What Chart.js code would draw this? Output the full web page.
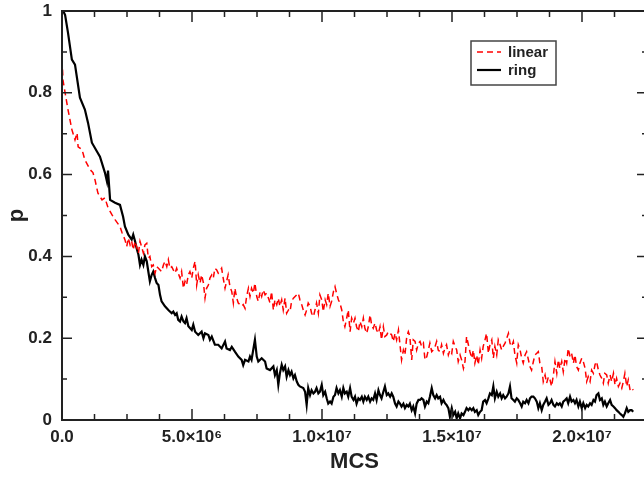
<!DOCTYPE html>
<html>
  <head>
    <meta charset="UTF-8">
    <title>p vs MCS</title>
    <script src="https://cdn.jsdelivr.net/npm/chart.js"></script>
    <style>
      html, body {
        margin: 0;
        padding: 0;
        background: white;
        overflow: hidden;
      }
      canvas {
        display: block;
      }
    </style>
  </head>
  <body>
    <canvas id="myChart" width="650" height="477"></canvas>

    <script>
      // MCS values are in millions
      const linearMcs = [
        0.02,0.04,0.12,0.23,0.38,0.5,0.58,0.62,0.77,0.88,1.08,1.19,1.27,1.38,1.54,1.65,1.77,1.92,2.04,2.23,2.31,
        2.42,2.49,2.55,2.62,2.68,2.74,2.81,2.94,3.0,3.06,3.13,3.19,3.26,3.32,3.38,3.45,3.51,3.58,3.64,3.71,
        3.83,3.9,3.96,4.03,4.09,4.15,4.22,4.28,4.35,4.41,4.47,4.54,4.6,4.67,4.73,4.79,4.86,4.92,4.99,5.05,
        5.12,5.18,5.24,5.31,5.37,5.44,5.5,5.56,5.63,5.69,5.76,5.82,5.88,5.95,6.01,6.07,6.14,6.2,6.27,6.33,
        6.39,6.46,6.53,6.59,6.65,6.72,6.78,6.85,6.91,6.97,7.04,7.1,7.17,7.23,7.29,7.36,7.42,7.49,7.55,7.62,
        7.68,7.74,7.81,7.87,7.94,
        8.0,8.06,8.13,8.19,8.26,8.32,8.38,8.45,8.51,8.58,8.64,8.71,8.77,8.83,8.9,9.03,9.09,9.15,9.22,9.28,
        9.35,9.41,9.47,9.54,9.6,9.67,9.73,9.79,9.86,9.92,9.99,10.05,10.12,10.18,10.24,10.31,10.37,10.44,10.5,10.56,
        10.63,10.69,10.76,10.82,10.88,10.95,11.01,11.08,11.14,11.21,11.27,11.33,11.4,11.46,11.53,11.59,11.65,11.72,11.78,11.85,
        11.91,11.97,12.04,12.1,12.17,12.23,12.29,12.36,12.42,12.49,12.55,12.62,12.68,12.74,12.81,12.87,12.94,13.0,13.06,13.13,
        13.19,13.26,13.32,13.38,13.45,13.51,13.58,13.64,13.71,13.77,
        13.83,13.9,13.96,14.03,14.09,14.15,14.22,14.28,14.35,14.41,14.47,14.54,14.6,14.67,14.73,14.79,14.86,14.92,14.99,15.05,
        15.12,15.18,15.24,15.31,15.37,15.44,15.5,15.56,15.63,15.69,15.76,15.82,15.88,15.95,16.01,16.08,16.14,16.2,16.27,16.33,
        16.4,16.46,16.53,16.59,16.65,16.72,16.78,16.85,16.91,16.97,17.04,17.17,17.23,17.29,17.36,17.42,17.49,17.55,17.62,17.68,
        17.74,17.81,17.87,17.94,18.0,18.06,18.13,18.19,
        18.26,18.32,18.38,18.45,18.51,18.58,18.64,18.71,18.77,18.83,18.9,18.96,19.03,19.09,19.15,19.22,19.28,19.35,19.41,19.47,
        19.54,19.6,19.67,19.73,19.79,19.86,19.92,19.99,20.05,20.12,20.18,20.24,20.31,20.37,20.44,20.5,20.56,20.63,20.69,20.76,
        20.82,20.88,20.95,21.01,21.08,21.14,21.21,21.27,21.33,21.4,21.46,21.53,21.59,21.65,21.72,21.78,21.85,21.91,21.97
      ];
      const linearP = [
        0.857,0.83,0.8,0.759,0.71,0.685,0.702,0.668,0.661,0.636,0.612,0.605,0.587,0.555,0.538,0.543,0.519,0.502,0.49,0.473,0.458,
        0.441,0.424,0.445,0.428,0.437,0.416,0.437,0.408,0.437,0.424,0.408,0.428,0.432,0.396,0.400,0.375,0.379,0.359,0.375,0.371,
        0.363,0.379,0.388,0.375,0.392,0.371,0.375,0.367,0.359,0.371,0.359,0.347,0.363,0.322,0.339,0.330,0.355,0.363,0.347,0.371,
        0.388,0.330,0.355,0.335,0.355,0.335,0.298,0.322,0.330,0.347,0.355,0.347,0.371,0.367,0.359,0.363,0.371,0.347,0.322,0.339,
        0.355,0.326,0.314,0.286,0.322,0.298,0.286,0.282,0.278,0.282,0.273,0.302,0.322,0.302,0.322,0.310,0.335,0.302,0.290,0.314,
        0.302,0.318,0.306,0.310,0.298,
        0.286,0.314,0.269,0.294,0.282,0.298,0.278,0.294,0.269,0.298,0.261,0.269,0.265,0.290,0.298,0.306,0.310,0.294,0.282,0.269,
        0.257,0.269,0.286,0.278,0.261,0.253,0.269,0.286,0.261,0.306,0.294,0.265,0.294,0.282,0.310,0.278,0.290,0.314,0.326,0.310,
        0.294,0.286,0.269,0.241,0.228,0.249,0.269,0.216,0.249,0.237,0.249,0.228,0.216,0.241,0.228,0.249,0.224,0.212,0.228,0.257,
        0.232,0.224,0.237,0.220,0.212,0.228,0.196,0.228,0.204,0.208,0.216,0.212,0.208,0.192,0.212,0.196,0.220,0.184,0.147,0.171,
        0.159,0.204,0.216,0.204,0.147,0.196,0.192,0.171,0.188,0.192,
        0.180,0.188,0.147,0.155,0.171,0.188,0.167,0.171,0.180,0.192,0.171,0.167,0.184,0.163,0.176,0.184,0.159,0.171,0.163,0.192,
        0.180,0.171,0.143,0.159,0.147,0.126,0.143,0.204,0.184,0.167,0.151,0.171,0.139,0.159,0.135,0.171,0.151,0.180,0.196,0.212,
        0.163,0.184,0.196,0.151,0.180,0.159,0.196,0.184,0.171,0.180,0.188,0.212,0.188,0.180,0.192,0.159,0.139,0.184,0.171,0.151,
        0.139,0.159,0.167,0.147,0.130,0.122,0.143,0.159,
        0.163,0.167,0.139,0.131,0.094,0.110,0.090,0.106,0.098,0.082,0.110,0.143,0.114,0.147,0.126,0.143,0.118,0.151,0.139,0.175,
        0.155,0.163,0.139,0.159,0.131,0.122,0.139,0.151,0.143,0.126,0.094,0.106,0.094,0.122,0.114,0.135,0.143,0.122,0.110,0.102,
        0.090,0.114,0.110,0.090,0.110,0.094,0.114,0.086,0.102,0.082,0.090,0.078,0.094,0.114,0.082,0.098,0.073,0.078,0.073
      ];

      const ringMcs = [
        0.05,0.12,0.23,0.38,0.5,0.69,0.88,1.0,1.15,1.35,1.46,1.65,1.73,1.77,1.85,2.04,2.23,2.35,
        2.42,2.55,2.68,2.74,2.81,2.87,2.94,3.0,3.06,3.13,3.19,3.26,3.32,3.38,3.45,3.51,3.58,3.64,3.71,3.77,
        3.83,3.96,4.09,4.22,4.28,4.35,4.41,4.47,4.54,4.6,4.67,4.73,4.79,4.86,4.99,5.05,5.12,5.24,5.37,5.44,
        5.5,5.63,5.69,5.76,5.88,6.01,6.14,6.27,6.33,6.46,6.53,6.65,6.78,6.91,6.97,7.04,7.17,7.23,7.29,7.42,
        7.49,7.55,7.68,7.81,7.87,
        8.0,8.13,8.19,8.26,8.32,8.38,8.45,8.51,8.58,8.64,8.71,8.77,8.83,8.9,8.96,9.03,9.09,9.15,9.28,9.35,
        9.41,9.47,9.54,9.6,9.67,9.73,9.79,9.86,9.92,9.99,10.05,10.12,10.18,10.24,10.31,10.37,10.44,10.5,10.56,10.63,
        10.69,10.76,10.82,10.88,10.95,11.01,11.08,11.14,11.21,11.27,11.33,11.4,11.46,11.53,11.59,11.65,11.72,11.78,11.85,11.91,
        11.97,12.04,12.1,12.17,12.23,12.29,12.36,12.42,12.49,12.55,12.62,12.68,12.74,12.81,12.87,12.94,13.0,13.06,13.13,13.19,
        13.26,13.32,13.38,13.45,13.51,13.58,13.64,13.71,13.77,
        13.83,13.9,13.96,14.03,14.09,14.15,14.22,14.28,14.35,14.41,14.47,14.54,14.6,14.67,14.73,14.79,14.86,14.92,14.99,15.05,
        15.12,15.18,15.24,15.31,15.37,15.44,15.5,15.56,15.63,15.69,15.76,15.82,15.88,15.95,16.01,16.08,16.14,16.2,16.27,16.33,
        16.4,16.46,16.53,16.59,16.65,16.72,16.78,16.85,16.91,16.97,17.04,17.1,17.17,17.23,17.29,17.36,17.42,17.49,17.55,17.62,
        17.68,17.74,17.81,17.87,17.94,18.0,18.06,18.13,18.19,
        18.26,18.32,18.38,18.45,18.51,18.58,18.64,18.71,18.77,18.83,18.9,18.96,19.03,19.09,19.15,19.22,19.28,19.35,19.41,19.47,
        19.54,19.6,19.67,19.73,19.79,19.86,19.92,19.99,20.05,20.12,20.18,20.24,20.31,20.37,20.44,20.5,20.56,20.63,20.69,20.76,
        20.82,20.88,20.95,21.01,21.08,21.14,21.21,21.27,21.33,21.4,21.46,21.53,21.59,21.65,21.72,21.78,21.85,21.91,21.97
      ];
      const ringP = [
        1.0,0.99,0.947,0.881,0.869,0.788,0.759,0.727,0.678,0.656,0.644,0.605,0.583,0.61,0.538,0.531,0.526,0.497,
        0.473,0.453,0.441,0.453,0.437,0.420,0.404,0.379,0.392,0.379,0.400,0.388,0.363,0.339,0.355,0.363,0.347,0.335,0.330,0.306,
        0.290,0.278,0.269,0.261,0.265,0.257,0.261,0.245,0.241,0.253,0.241,0.237,0.249,0.229,0.220,0.233,0.216,0.208,0.216,0.2,
        0.212,0.208,0.196,0.204,0.184,0.184,0.175,0.192,0.175,0.171,0.179,0.167,0.155,0.147,0.134,0.147,0.143,0.155,0.147,0.196,
        0.155,0.143,0.151,0.143,0.126,
        0.122,0.131,0.110,0.122,0.086,0.114,0.135,0.122,0.131,0.106,0.122,0.110,0.118,0.102,0.110,0.094,0.086,0.082,0.078,0.069,
        0.037,0.078,0.061,0.073,0.065,0.069,0.078,0.065,0.069,0.086,0.061,0.069,0.053,0.040,0.045,0.040,0.057,0.061,0.078,0.065,
        0.073,0.057,0.078,0.065,0.069,0.057,0.078,0.057,0.049,0.057,0.040,0.053,0.049,0.057,0.045,0.057,0.049,0.057,0.045,0.053,
        0.049,0.065,0.049,0.073,0.061,0.053,0.069,0.082,0.061,0.065,0.057,0.065,0.057,0.040,0.033,0.045,0.040,0.033,0.040,0.029,
        0.037,0.033,0.040,0.024,0.033,0.016,0.040,0.049,0.049,
        0.053,0.049,0.033,0.045,0.041,0.057,0.078,0.061,0.053,0.061,0.053,0.057,0.041,0.049,0.041,0.037,0.029,0.008,0.029,0.012,
        0.020,0.004,0.016,0.004,0.016,0.012,0.020,0.029,0.024,0.029,0.024,0.029,0.020,0.024,0.012,0.020,0.024,0.045,0.049,0.041,
        0.053,0.065,0.061,0.082,0.053,0.069,0.057,0.065,0.053,0.061,0.053,0.057,0.065,0.082,0.053,0.049,0.045,0.053,0.049,0.041,
        0.033,0.045,0.041,0.049,0.041,0.053,0.057,0.057,0.053,
        0.045,0.029,0.041,0.024,0.037,0.045,0.053,0.037,0.041,0.049,0.037,0.033,0.041,0.037,0.041,0.033,0.045,0.049,0.053,0.041,
        0.057,0.045,0.049,0.041,0.049,0.033,0.045,0.029,0.041,0.029,0.037,0.033,0.041,0.037,0.049,0.045,0.061,0.065,0.049,0.053,
        0.037,0.045,0.033,0.041,0.049,0.037,0.033,0.029,0.024,0.020,0.016,0.012,0.008,0.016,0.029,0.020,0.024,0.024,0.020
      ];

      const xTicks = [0, 5e6, 1e7, 1.5e7, 2e7];
      const xTickLabels = ["0.0", "5.0\u00d710\u2076", "1.0\u00d710\u2077", "1.5\u00d710\u2077", "2.0\u00d710\u2077"];
      const yTicks = [0, 0.2, 0.4, 0.6, 0.8, 1];
      const yTickLabels = ["0", "0.2", "0.4", "0.6", "0.8", "1"];

      const textColor = "#222";
      const fontFamily = "'Liberation Sans', Arial, sans-serif";

      function toPoints(xs, ys) {
        return xs.map((x, i) => ({ x: x * 1e6, y: ys[i] }));
      }

      // frame, inward ticks on all four sides, and the boxed legend
      const framePlugin = {
        id: "frame",
        afterDraw(chart) {
          const ctx = chart.ctx;
          const a = chart.chartArea;
          const xs = chart.scales.x;
          const ys = chart.scales.y;
          ctx.save();
          ctx.strokeStyle = textColor;
          ctx.lineWidth = 2;
          ctx.strokeRect(a.left, a.top, a.right - a.left, a.bottom - a.top);

          ctx.lineWidth = 1.5;
          ctx.beginPath();
          for (let v = 0; v <= 2.25e7 + 1; v += 1.25e6) {
            const px = xs.getPixelForValue(v);
            const len = (Math.round(v / 1.25e6) % 4 === 0) ? 11 : 6;
            ctx.moveTo(px, a.bottom); ctx.lineTo(px, a.bottom - len);
            ctx.moveTo(px, a.top); ctx.lineTo(px, a.top + len);
          }
          for (let k = 0; k <= 10; k++) {
            const py = ys.getPixelForValue(k / 10);
            const len = (k % 2 === 0) ? 10 : 5;
            ctx.moveTo(a.left, py); ctx.lineTo(a.left + len, py);
            ctx.moveTo(a.right, py); ctx.lineTo(a.right - len, py);
          }
          ctx.stroke();

          // legend
          const lx = 471, ly = 41, lw = 85, lh = 44;
          ctx.lineWidth = 1.5;
          ctx.strokeStyle = "#444";
          ctx.strokeRect(lx, ly, lw, lh);
          ctx.font = "bold 15px " + fontFamily;
          ctx.textBaseline = "middle";
          ctx.fillStyle = textColor;
          chart.data.datasets.forEach((ds, i) => {
            const y = ly + 11 + i * 18;
            ctx.strokeStyle = ds.borderColor;
            ctx.lineWidth = ds.borderWidth;
            ctx.setLineDash(ds.borderDash || []);
            ctx.beginPath();
            ctx.moveTo(lx + 6, y);
            ctx.lineTo(lx + 30, y);
            ctx.stroke();
            ctx.setLineDash([]);
            ctx.fillText(ds.label, lx + 37, y + 1);
          });
          ctx.restore();
        }
      };

      const ctx = document.getElementById("myChart").getContext("2d");
      const myChart = new Chart(ctx, {
        type: "line",
        data: {
          datasets: [
            {
              label: "linear",
              data: toPoints(linearMcs, linearP),
              borderColor: "#ff0000",
              borderWidth: 1.5,
              borderDash: [6, 4],
              pointRadius: 0,
              tension: 0
            },
            {
              label: "ring",
              data: toPoints(ringMcs, ringP),
              borderColor: "#000000",
              borderWidth: 2.2,
              pointRadius: 0,
              tension: 0
            }
          ]
        },
        options: {
          responsive: false,
          animation: false,
          devicePixelRatio: 1,
          layout: {
            padding: { top: 11, right: 3, left: 0, bottom: 0 }
          },
          plugins: {
            legend: { display: false },
            tooltip: { enabled: false }
          },
          scales: {
            x: {
              type: "linear",
              min: 0,
              max: 2.25e7,
              afterBuildTicks: (scale) => {
                scale.ticks = xTicks.map(v => ({ value: v }));
              },
              afterFit: (scale) => {
                scale.height = 57;
                scale.paddingLeft = 0;
                scale.paddingRight = 0;
              },
              grid: { display: false, drawTicks: false },
              border: { display: false },
              ticks: {
                maxRotation: 0,
                autoSkip: false,
                padding: 7,
                color: textColor,
                font: { family: fontFamily, size: 17, weight: "bold" },
                callback: (value) => xTickLabels[xTicks.indexOf(value)]
              },
              title: {
                display: true,
                text: "MCS",
                color: textColor,
                padding: { top: 0, bottom: 2 },
                font: { family: fontFamily, size: 22, weight: "bold" }
              }
            },
            y: {
              min: 0,
              max: 1,
              afterBuildTicks: (scale) => {
                scale.ticks = yTicks.map(v => ({ value: v }));
              },
              afterFit: (scale) => {
                scale.width = 62;
                scale.paddingTop = 0;
                scale.paddingBottom = 0;
              },
              grid: { display: false, drawTicks: false },
              border: { display: false },
              ticks: {
                padding: 10,
                color: textColor,
                font: { family: fontFamily, size: 17, weight: "bold" },
                callback: (value) => yTickLabels[yTicks.indexOf(value)]
              },
              title: {
                display: true,
                text: "p",
                color: textColor,
                padding: { top: 4, bottom: 0 },
                font: { family: fontFamily, size: 22, weight: "bold" }
              }
            }
          }
        },
        plugins: [framePlugin]
      });
    </script>
  </body>
</html>
